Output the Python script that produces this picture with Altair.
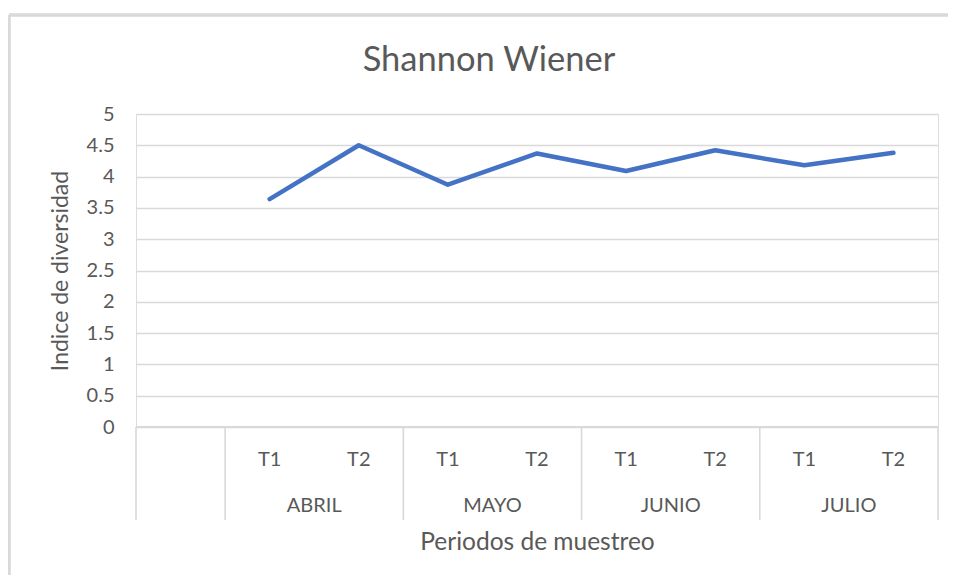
import altair as alt
import pandas as pd

# ---- data ----
chart_title = ["Shannon Wiener"]
periods = ["T1", "T2", "T1", "T2", "T1", "T2", "T1", "T2"]
months = ["ABRIL", "MAYO", "JUNIO", "JULIO"]
values = [3.64, 4.50, 3.87, 4.37, 4.09, 4.42, 4.18, 4.38]

# category slots: slot 0 is an empty category, then 8 sampling periods
slot_pos = [i + 1.5 for i in range(len(periods))]
month_pos = [2, 4, 6, 8]
sep_pos = [0, 1, 3, 5, 7, 9]

FONT = "Lato"
GRAY = "#595959"
LINE = "#d9d9d9"
W, H = 802, 313

df_line = pd.DataFrame({"pos": slot_pos, "value": values, "period": periods})
df_month = pd.DataFrame({"pos": month_pos, "month": months})
df_sep = pd.DataFrame({"pos": sep_pos})
df_title = pd.DataFrame({"t": chart_title})

xscale = alt.Scale(domain=[0, 9], nice=False, zero=False)
yscale = alt.Scale(domain=[0, 5], nice=False)

line = alt.Chart(df_line).mark_line(
    color="#4472C4", strokeWidth=4.5, strokeCap="round", strokeJoin="round"
).encode(
    x=alt.X("pos:Q", scale=xscale,
            axis=alt.Axis(title="Periodos de muestreo", labels=False, ticks=False,
                          domain=False, grid=False, titlePadding=103,
                          titleFont=FONT, titleFontSize=24.5, titleColor=GRAY,
                          titleFontWeight="normal")),
    y=alt.Y("value:Q", scale=yscale,
            axis=alt.Axis(title="Indice de diversidad",
                          values=[i * 0.5 for i in range(11)],
                          labelExpr="datum.value + ''",
                          ticks=False, domain=False,
                          gridColor=LINE, gridWidth=1.6,
                          labelFont=FONT, labelFontSize=20, labelColor=GRAY,
                          labelPadding=22,
                          titleFont=FONT, titleFontSize=23, titleColor=GRAY,
                          titleFontWeight="normal", titlePadding=14)),
)

baseline = alt.Chart(df_sep).mark_rule(color=LINE, strokeWidth=1.6).encode(
    x=alt.value(0), x2=alt.value(W), y=alt.value(H)
)

seps = alt.Chart(df_sep).mark_rule(color=LINE, strokeWidth=1.6).encode(
    x=alt.X("pos:Q", scale=xscale),
    y=alt.value(H), y2=alt.value(H + 93),
)

# outer chart-area frame (top and left edges visible in the original)
frame_top = alt.Chart(df_sep).mark_rule(color=LINE, strokeWidth=2.5).encode(
    x=alt.value(-127), x2=alt.value(830), y=alt.value(-99)
)
frame_left = alt.Chart(df_sep).mark_rule(color=LINE, strokeWidth=2.5).encode(
    x=alt.value(-127), y=alt.value(-99), y2=alt.value(480)
)

title = alt.Chart(df_title).mark_text(
    font=FONT, fontSize=34.5, color=GRAY, baseline="middle", align="center"
).encode(
    x=alt.value(353), y=alt.value(-53), text="t:N"
)

sub_labels = alt.Chart(df_line).mark_text(
    font=FONT, fontSize=20, color=GRAY, baseline="middle"
).encode(
    x=alt.X("pos:Q", scale=xscale),
    y=alt.value(H + 33),
    text="period:N",
)

month_labels = alt.Chart(df_month).mark_text(
    font=FONT, fontSize=20, color=GRAY, baseline="middle"
).encode(
    x=alt.X("pos:Q", scale=xscale),
    y=alt.value(H + 79),
    text="month:N",
)

chart = alt.layer(frame_top, frame_left, title, line, baseline, seps,
                  sub_labels, month_labels).properties(
    width=W, height=H,
    autosize=alt.AutoSizeParams(type="none"),
    padding={"left": 128, "top": 106, "right": 10, "bottom": 148},
).configure_view(stroke=None).configure(background="white")

chart.save("out.html", embed_options={"renderer": "svg", "actions": False})
